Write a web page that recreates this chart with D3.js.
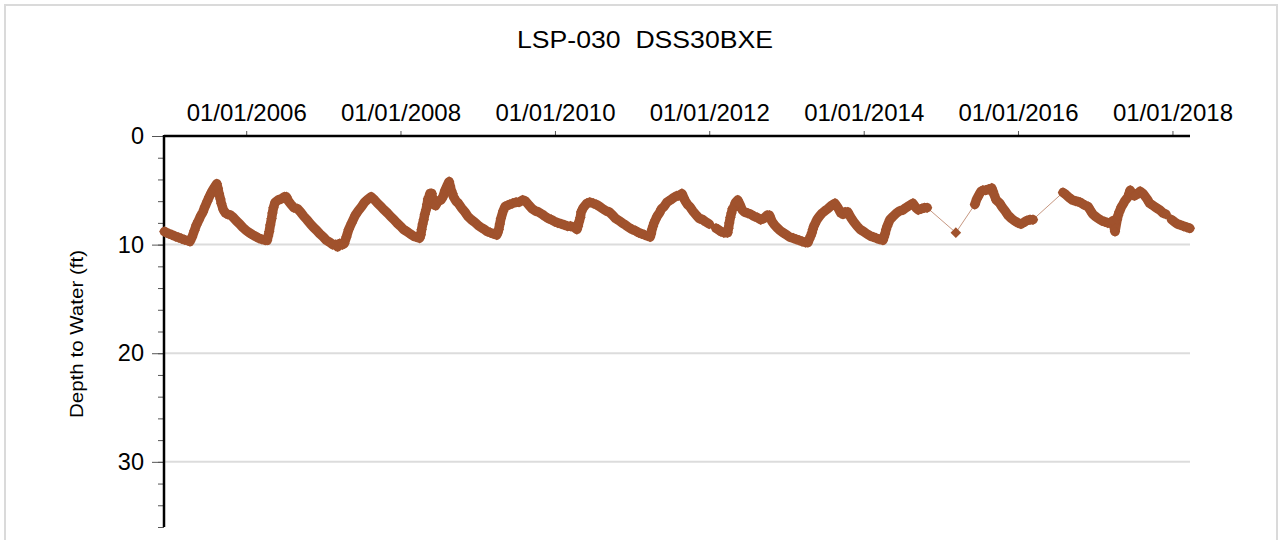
<!DOCTYPE html>
<html>
<head>
<meta charset="utf-8">
<script src="https://cdn.jsdelivr.net/npm/d3@7"></script>
<style>
  body { margin: 0; background: #fff; }
  svg { display: block; font-family: Arial, "Liberation Sans", sans-serif; }
</style>
</head>
<body>
<div id="chart"></div>
<script>
const chartTitle = "LSP-030  DSS30BXE";
const yAxisLabel = "Depth to Water (ft)";
const yMajorTicks = [0, 10, 20, 30];
const xTickYears = [2006, 2008, 2010, 2012, 2014, 2016, 2018];

// readings (date, depth to water in ft)
const dates = [
  "2004-12-10","2004-12-20","2005-01-01","2005-01-15","2005-02-01","2005-02-15","2005-03-01","2005-03-15","2005-04-01","2005-04-10",
  "2005-04-20","2005-05-01","2005-05-10","2005-05-20","2005-06-01","2005-06-10","2005-06-20","2005-07-01","2005-07-10","2005-07-20",
  "2005-08-01","2005-08-08","2005-08-15","2005-08-20","2005-08-25","2005-09-01","2005-09-05","2005-09-15","2005-09-25","2005-10-05",
  "2005-10-20","2005-11-01","2005-11-15","2005-12-01","2005-12-15","2006-01-01","2006-01-15","2006-02-01","2006-02-15","2006-03-01",
  "2006-03-15","2006-04-01","2006-04-10","2006-04-15","2006-04-20","2006-04-25","2006-05-01","2006-05-05","2006-05-10","2006-05-18",
  "2006-06-01","2006-06-15","2006-07-01","2006-07-10","2006-07-20","2006-08-01","2006-08-15","2006-09-01","2006-09-15","2006-10-01",
  "2006-10-15","2006-11-01","2006-11-15","2006-12-01","2006-12-15","2007-01-01","2007-01-15","2007-02-01","2007-02-15","2007-03-01",
  "2007-03-10","2007-03-20","2007-04-01","2007-04-10","2007-04-20","2007-05-01","2007-05-15","2007-06-01","2007-06-15","2007-07-01",
  "2007-07-15","2007-08-01","2007-08-15","2007-09-01","2007-09-15","2007-10-01","2007-10-15","2007-11-01","2007-11-15","2007-12-01",
  "2007-12-15","2008-01-01","2008-01-15","2008-02-01","2008-02-15","2008-03-01","2008-03-15","2008-04-01","2008-04-06","2008-04-10",
  "2008-04-15","2008-04-20","2008-04-25","2008-05-01","2008-05-06","2008-05-10","2008-05-15","2008-05-20","2008-05-28","2008-06-01",
  "2008-06-05","2008-06-15","2008-06-27","2008-07-10","2008-07-20","2008-07-30","2008-08-04","2008-08-08","2008-08-13","2008-08-18",
  "2008-08-23","2008-08-28","2008-09-03","2008-09-08","2008-09-20","2008-10-01","2008-10-15","2008-11-01","2008-11-15","2008-12-01",
  "2008-12-15","2009-01-01","2009-01-15","2009-02-01","2009-02-15","2009-03-01","2009-03-15","2009-04-01","2009-04-05","2009-04-10",
  "2009-04-15","2009-04-20","2009-05-01","2009-05-10","2009-05-20","2009-06-01","2009-06-15","2009-07-01","2009-07-15","2009-08-01",
  "2009-08-15","2009-09-01","2009-09-15","2009-10-01","2009-10-15","2009-11-01","2009-11-15","2009-12-01","2009-12-15","2010-01-01",
  "2010-01-15","2010-02-01","2010-02-15","2010-03-01","2010-03-15","2010-04-01","2010-04-15","2010-04-20","2010-04-25","2010-05-01",
  "2010-05-05","2010-05-10","2010-05-15","2010-06-01","2010-06-15","2010-07-01","2010-07-15","2010-08-01","2010-08-15","2010-09-01",
  "2010-09-15","2010-10-01","2010-10-15","2010-11-01","2010-11-15","2010-12-01","2010-12-15","2011-01-01","2011-01-15","2011-02-01",
  "2011-02-15","2011-03-01","2011-03-15","2011-03-27","2011-04-01","2011-04-05","2011-04-10","2011-04-15","2011-04-22","2011-04-29",
  "2011-05-10","2011-05-20","2011-06-01","2011-06-15","2011-07-01","2011-07-15","2011-08-01","2011-08-10","2011-08-25","2011-09-03",
  "2011-09-10","2011-09-20","2011-10-01","2011-10-15","2011-11-01","2011-11-15","2011-12-01","2011-12-15","2012-01-01","2012-02-02",
  "2012-02-12","2012-02-25","2012-03-10","2012-03-28","2012-04-01","2012-04-05","2012-04-10","2012-04-15","2012-04-20","2012-04-25",
  "2012-05-05","2012-05-15","2012-05-25","2012-06-05","2012-06-15","2012-07-01","2012-07-15","2012-08-01","2012-08-15","2012-09-01",
  "2012-09-15","2012-10-01","2012-10-12","2012-10-25","2012-11-05","2012-11-20","2012-12-01","2012-12-15","2013-01-01","2013-01-15",
  "2013-02-01","2013-02-15","2013-03-01","2013-03-15","2013-04-01","2013-04-12","2013-04-18","2013-04-25","2013-05-01","2013-05-05",
  "2013-05-10","2013-05-15","2013-05-25","2013-06-05","2013-06-18","2013-07-01","2013-07-15","2013-08-01","2013-08-18","2013-09-01",
  "2013-09-15","2013-09-25","2013-10-05","2013-10-18","2013-11-01","2013-11-15","2013-12-01","2013-12-15","2014-01-01","2014-01-15",
  "2014-02-01","2014-02-15","2014-03-01","2014-03-15","2014-04-02","2014-04-07","2014-04-12","2014-04-17","2014-04-22","2014-05-05",
  "2014-05-20","2014-06-05","2014-06-20","2014-07-06","2014-07-20","2014-08-05","2014-08-22","2014-09-05","2014-09-16","2014-10-01",
  "2014-10-15","2014-10-28","2015-03-13","2015-06-11","2015-06-20","2015-07-01","2015-07-10","2015-07-19","2015-08-01","2015-08-15",
  "2015-08-30","2015-09-05","2015-09-10","2015-09-20","2015-10-07","2015-10-20","2015-11-01","2015-11-15","2015-12-01","2015-12-15",
  "2016-01-01","2016-01-15","2016-01-25","2016-02-10","2016-02-27","2016-03-12","2016-08-01","2016-08-15","2016-09-01","2016-09-15",
  "2016-10-01","2016-10-11","2016-10-21","2016-11-05","2016-11-16","2016-11-28","2016-12-10","2016-12-20","2017-01-01","2017-01-15",
  "2017-02-01","2017-02-15","2017-03-01","2017-03-12","2017-03-25","2017-04-04","2017-04-14","2017-04-19","2017-04-24","2017-05-05",
  "2017-05-12","2017-05-20","2017-05-28","2017-06-05","2017-06-10","2017-06-15","2017-06-25","2017-07-05","2017-07-15","2017-08-01",
  "2017-08-15","2017-09-03","2017-09-15","2017-10-01","2017-10-15","2017-11-01","2017-11-18","2017-12-01","2017-12-28","2018-01-10",
  "2018-01-25","2018-02-08","2018-02-22","2018-03-10","2018-03-24"
];
const depths = [
  8.8, 8.9, 9.0, 9.1, 9.25, 9.35, 9.45, 9.55, 9.65, 9.7,
  9.3, 8.7, 8.2, 7.8, 7.3, 7.0, 6.5, 6.0, 5.6, 5.2,
  4.8, 4.6, 4.4, 4.8, 5.3, 5.8, 6.2, 6.8, 7.1, 7.2,
  7.3, 7.5, 7.8, 8.1, 8.4, 8.7, 8.9, 9.1, 9.25, 9.4,
  9.5, 9.6, 9.6, 9.2, 8.8, 8.2, 7.6, 7.1, 6.6, 6.1,
  5.9, 5.8, 5.6, 5.6, 6.0, 6.3, 6.6, 6.7, 7.0, 7.4,
  7.7, 8.1, 8.4, 8.7, 9.0, 9.3, 9.6, 9.8, 10.0, 10.0,
  10.2, 9.9, 10.0, 9.9, 9.3, 8.6, 8.0, 7.3, 6.9, 6.5,
  6.1, 5.8, 5.6, 5.9, 6.2, 6.5, 6.8, 7.1, 7.4, 7.7,
  8.0, 8.3, 8.6, 8.8, 9.0, 9.2, 9.3, 9.4, 9.1, 8.6,
  8.1, 7.7, 7.2, 6.8, 6.3, 5.8, 5.6, 5.3, 5.3, 5.8,
  6.3, 6.4, 6.0, 5.9, 5.6, 5.0, 4.8, 4.6, 4.4, 4.2,
  4.6, 5.0, 5.3, 5.6, 6.0, 6.2, 6.6, 7.0, 7.4, 7.7,
  7.9, 8.2, 8.4, 8.6, 8.8, 8.9, 9.0, 9.1, 8.9, 8.6,
  8.1, 7.6, 6.9, 6.5, 6.4, 6.3, 6.2, 6.1, 6.1, 5.9,
  6.0, 6.4, 6.7, 6.9, 7.0, 7.2, 7.4, 7.6, 7.7, 7.9,
  8.0, 8.1, 8.2, 8.3, 8.3, 8.4, 8.6, 8.3, 7.9, 7.5,
  7.0, 6.8, 6.6, 6.2, 6.1, 6.2, 6.3, 6.5, 6.7, 6.9,
  7.0, 7.3, 7.6, 7.8, 8.0, 8.2, 8.4, 8.6, 8.7, 8.9,
  9.0, 9.1, 9.2, 9.3, 9.0, 8.6, 8.3, 8.0, 7.7, 7.4,
  7.1, 6.7, 6.5, 6.1, 5.9, 5.7, 5.5, 5.5, 5.3, 5.7,
  6.0, 6.3, 6.5, 6.9, 7.3, 7.6, 7.7, 7.9, 8.1, 8.5,
  8.6, 8.8, 8.9, 8.9, 8.5, 8.0, 7.5, 7.1, 6.7, 6.6,
  6.1, 5.9, 6.3, 6.8, 7.0, 7.1, 7.2, 7.4, 7.5, 7.7,
  7.6, 7.3, 7.3, 7.9, 8.2, 8.5, 8.7, 8.9, 9.1, 9.3,
  9.4, 9.5, 9.6, 9.7, 9.8, 9.8, 9.5, 9.2, 8.9, 8.6,
  8.3, 8.1, 7.7, 7.4, 7.1, 6.9, 6.7, 6.4, 6.2, 6.6,
  7.1, 7.2, 7.0, 7.0, 7.5, 7.9, 8.3, 8.6, 8.8, 9.0,
  9.2, 9.3, 9.4, 9.5, 9.6, 9.3, 9.0, 8.6, 8.3, 7.7,
  7.4, 7.1, 6.9, 6.8, 6.6, 6.4, 6.2, 6.6, 6.8, 6.7,
  6.6, 6.6, 8.9, 6.3, 5.8, 5.4, 5.1, 5.0, 5.0, 4.9,
  4.8, 5.1, 5.4, 5.9, 6.2, 6.6, 6.9, 7.3, 7.6, 7.8,
  8.0, 8.1, 8.0, 7.8, 7.7, 7.7, 5.2, 5.4, 5.7, 5.9,
  6.0, 6.05, 6.1, 6.3, 6.4, 6.5, 6.9, 7.2, 7.4, 7.6,
  7.8, 7.9, 8.0, 8.0, 7.8, 8.8, 7.7, 7.3, 7.0, 6.5,
  6.3, 6.0, 5.8, 5.6, 5.3, 5.0, 5.3, 5.5, 5.4, 5.1,
  5.3, 5.8, 6.2, 6.4, 6.6, 6.8, 7.1, 7.2, 7.7, 7.9,
  8.1, 8.2, 8.3, 8.4, 8.5
];

const parseDate = d3.timeParse("%Y-%m-%d");
const readings = dates.map((d, i) => ({ date: parseDate(d), depth: depths[i] }));

const width = 1281, height = 540;
const plotLeft = 164, plotRight = 1190, plotTop = 136, plotBottom = 527;
const brown = "#a0522d";
const fontStack = "Arial, 'Liberation Sans', sans-serif";

const svg = d3.select("#chart").append("svg").attr("width", width).attr("height", height);

// outer frame
svg.append("rect").attr("x", 5).attr("y", 5).attr("width", 1272).attr("height", 560)
  .attr("fill", "none").attr("stroke", "#dadada").attr("stroke-width", 2);

const x = d3.scaleTime()
  .domain([new Date(2004, 11, 8), new Date(2018, 2, 25)])
  .range([plotLeft, plotRight]);
const y = d3.scaleLinear().domain([0, 36]).range([plotTop, plotBottom]);

// gridlines
svg.append("g").selectAll("line").data(yMajorTicks.filter(v => v > 0)).join("line")
  .attr("x1", plotLeft).attr("x2", plotRight)
  .attr("y1", d => y(d)).attr("y2", d => y(d))
  .attr("stroke", "#dcdcdc").attr("stroke-width", 2);

// y axis: minor ticks every 2 ft, labels at 10s
const yMinor = d3.range(0, 37, 2);
svg.append("g").attr("transform", `translate(${plotLeft},0)`)
  .call(d3.axisLeft(y).tickValues(yMinor).tickSize(6).tickFormat(""))
  .call(g => g.select(".domain").remove())
  .call(g => g.selectAll(".tick line").attr("stroke", "#555"));
svg.append("g").attr("transform", `translate(${plotLeft},0)`)
  .call(d3.axisLeft(y).tickValues(yMajorTicks).tickSize(12).tickPadding(8).tickFormat(d3.format("d")))
  .call(g => g.select(".domain").remove())
  .call(g => g.selectAll(".tick line").attr("stroke", "#555"))
  .call(g => g.selectAll(".tick text").attr("font-size", 23.5).attr("fill", "#000").attr("font-family", fontStack));

// x axis on top
svg.append("g").attr("transform", `translate(0,${plotTop})`)
  .call(d3.axisTop(x).tickValues(xTickYears.map(yr => new Date(yr, 0, 1)))
    .tickSize(5).tickPadding(10).tickFormat(d3.timeFormat("%m/%d/%Y")))
  .call(g => g.select(".domain").remove())
  .call(g => g.selectAll(".tick line").attr("stroke", "#555"))
  .call(g => g.selectAll(".tick text").attr("font-size", 24).attr("fill", "#000").attr("font-family", fontStack));

// axis lines
svg.append("line").attr("x1", plotLeft).attr("x2", plotRight).attr("y1", plotTop).attr("y2", plotTop)
  .attr("stroke", "#000").attr("stroke-width", 2.5);
svg.append("line").attr("x1", plotLeft).attr("x2", plotLeft).attr("y1", plotTop - 1).attr("y2", plotBottom)
  .attr("stroke", "#000").attr("stroke-width", 2.5);

// series: thin connector through all readings
const line = d3.line().x(d => x(d.date)).y(d => y(d.depth));
svg.append("path").datum(readings).attr("d", line)
  .attr("fill", "none").attr("stroke", brown).attr("stroke-width", 1).attr("stroke-opacity", 0.6);

// dense runs of readings drawn as a solid band (overlapping markers)
const maxGap = 25 * 24 * 3600 * 1000;
const runs = [];
readings.forEach((d, i) => {
  if (i === 0 || d.date - readings[i - 1].date > maxGap) runs.push([]);
  runs[runs.length - 1].push(d);
});
svg.append("g").selectAll("path").data(runs.filter(r => r.length > 1)).join("path")
  .attr("d", line)
  .attr("fill", "none").attr("stroke", brown).attr("stroke-width", 9.5)
  .attr("stroke-linejoin", "round").attr("stroke-linecap", "round");

const diamond = d3.symbol().type(d3.symbolSquare).size(56);
svg.append("g").selectAll("path").data(readings).join("path")
  .attr("d", diamond)
  .attr("transform", d => `translate(${x(d.date)},${y(d.depth)}) rotate(45)`)
  .attr("fill", brown);

// title and y label
svg.append("text").attr("x", 645).attr("y", 48).attr("text-anchor", "middle")
  .attr("font-size", 23).attr("textLength", 256).attr("lengthAdjust", "spacingAndGlyphs")
  .style("white-space", "pre").text(chartTitle);

svg.append("text").attr("transform", `translate(83,334) rotate(-90)`)
  .attr("text-anchor", "middle").attr("font-size", 19)
  .attr("textLength", 168).attr("lengthAdjust", "spacingAndGlyphs").text(yAxisLabel);
</script>
</body>
</html>
